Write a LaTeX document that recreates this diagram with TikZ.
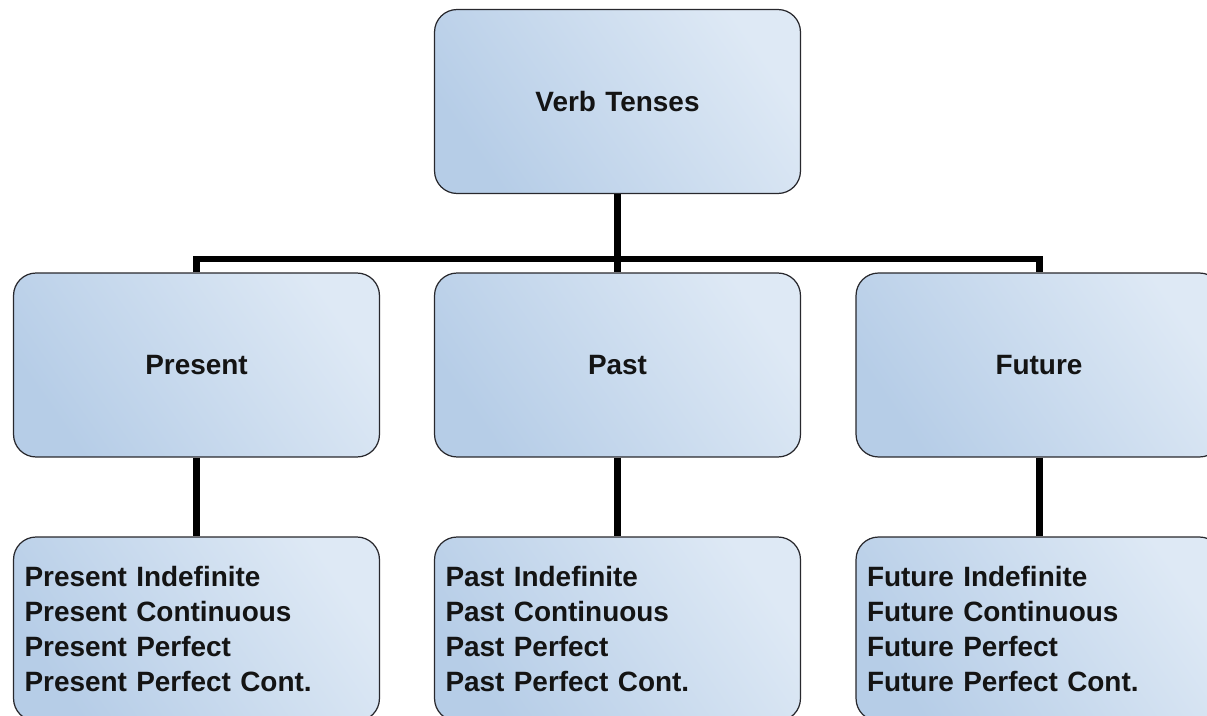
\documentclass[tikz,border=0pt]{standalone}
\usepackage{fontspec}
\setmainfont{Liberation Sans}
\definecolor{boxdark}{RGB}{182,205,231}
\definecolor{boxlight}{RGB}{222,233,245}
\definecolor{boxline}{RGB}{40,40,45}

\tikzset{
    tense box/.style={
        draw=boxline,line width=.7pt,rounded corners=.45cm,
        left color=boxdark,right color=boxlight,shading angle=125,
        minimum width=7.32cm,minimum height=3.68cm,
        inner xsep=.22cm,text width=6.88cm,
        font=\fontsize{15.9}{19.9}\selectfont\bfseries,
        text=black!92
    },
    branch/.style={line width=.14cm}
}

\begin{document}
\begin{tikzpicture}[x=.02cm,y=-.02cm]
        \useasboundingbox (0,0) rectangle (1207,716);
        \clip (0,0) rectangle (1207,716);
        \node[tense box,align=center] (verb) at (617.5,101.5) {Verb Tenses};
        \foreach \x/\name/\tense in {196.5/present/Present,617.5/past/Past,1039/future/Future}{
            \node[tense box,align=center] (\name) at (\x,365) {\tense};
            \node[tense box,align=left] (\name list) at (\x,629)
                {\tense\ Indefinite\\\tense\ Continuous\\\tense\ Perfect\\\tense\ Perfect Cont.};
            \draw[branch] (\name) -- (\name list);
        }
        \coordinate (fork) at (617.5,259);
        \draw[branch] (verb) -- (fork) -- (past);
        \draw[branch] (present.north) |- (fork) -| (future.north);
    \end{tikzpicture}
\end{document}
